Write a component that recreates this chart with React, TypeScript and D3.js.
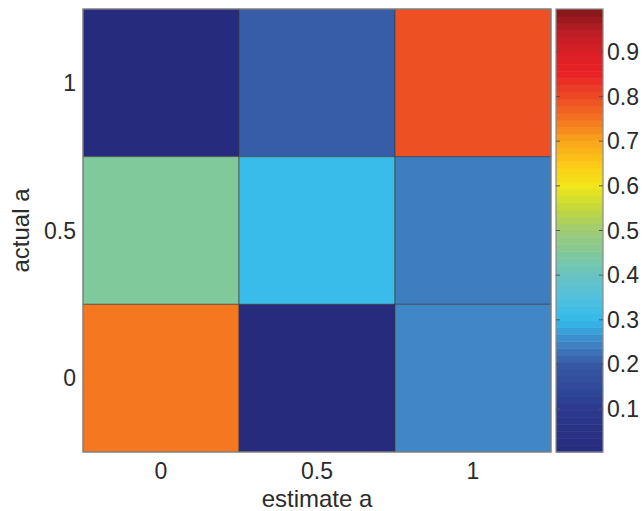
import * as d3 from 'd3'
import * as React from 'react'

//------------------------------data------------------------------
const estimateLabels = ['0', '0.5', '1']
const actualLabels = ['1', '0.5', '0']
// rows = actual a (top to bottom), columns = estimate a
const rowActual1 = [0.004, 0.205, 0.791]
const rowActual05 = [0.45, 0.31, 0.24]
const rowActual0 = [0.745, 0.004, 0.251]
const colorTicks = [0.1, 0.2, 0.3, 0.4, 0.5, 0.6, 0.7, 0.8, 0.9]
const colorStops = [0, 0.1, 0.2, 0.25, 0.3, 0.35, 0.4, 0.45, 0.5, 0.55, 0.6, 0.65, 0.7, 0.75, 0.8, 0.85, 0.9, 0.95, 1]
const colorValues = [
  '#272a7c', '#2b3a8e', '#3658a5', '#4086c6', '#33bbec', '#52c0dd', '#68c3c2',
  '#80c99a', '#9ecb74', '#c2d83c', '#f0e61a', '#fdc814', '#f9a51b', '#f47321',
  '#ec4a24', '#ea2226', '#db1f26', '#b81e25', '#7a1518'
]

const WIDTH = 644
const HEIGHT = 511
const plot = { left: 83, top: 9, right: 551, bottom: 452 }
const bar = { left: 556, right: 603 }
const FONT = 'Liberation Sans, Arial, sans-serif'
const FS = 23
const LABEL_FS = 24
const TEXT = '#2b2b2b'

export default function App() {
  const rows = [rowActual1, rowActual05, rowActual0]
  const x = d3.scaleBand().domain(estimateLabels).range([plot.left, plot.right])
  const y = d3.scaleBand().domain(actualLabels).range([plot.top, plot.bottom])
  const color = d3.scaleLinear<string>().domain(colorStops).range(colorValues)
  const cy = d3.scaleLinear().domain([0.004, 0.996]).range([plot.bottom, plot.top])
  const nBands = 64
  const bands = d3.range(nBands).map(i => 0.004 + (i * 0.992) / nBands)
  const bandH = (plot.bottom - plot.top) / nBands

  return (
    <svg width={WIDTH} height={HEIGHT} style={{ position: 'absolute', left: 0, top: 0 }}>
      <rect width={WIDTH} height={HEIGHT} fill="#fff" />
      {rows.map((row, ri) =>
        row.map((v, ci) => (
          <rect
            key={`${ri}-${ci}`}
            x={x(estimateLabels[ci])}
            y={y(actualLabels[ri])}
            width={x.bandwidth()}
            height={y.bandwidth()}
            fill={color(v)}
            stroke="#3a3a3a"
            strokeOpacity={0.6}
            strokeWidth={1}
          />
        ))
      )}
      <rect
        x={plot.left}
        y={plot.top}
        width={plot.right - plot.left}
        height={plot.bottom - plot.top}
        fill="none"
        stroke="#8a8a8a"
        strokeWidth={1.2}
      />
      {estimateLabels.map(l => (
        <text key={l} x={x(l)! + x.bandwidth() / 2} y={479} textAnchor="middle"
          fontFamily={FONT} fontSize={FS} fill={TEXT}>{l}</text>
      ))}
      {actualLabels.map(l => (
        <text key={l} x={76} y={y(l)! + y.bandwidth() / 2 + 8} textAnchor="end"
          fontFamily={FONT} fontSize={FS} fill={TEXT}>{l}</text>
      ))}
      <text x={(plot.left + plot.right) / 2} y={507} textAnchor="middle"
        fontFamily={FONT} fontSize={LABEL_FS} fill={TEXT}>estimate a</text>
      <text transform={`translate(29,${(plot.top + plot.bottom) / 2}) rotate(-90)`} textAnchor="middle"
        fontFamily={FONT} fontSize={LABEL_FS} fill={TEXT}>actual a</text>
      {/* colorbar */}
      {bands.map((v, i) => (
        <rect key={i} x={bar.left} y={plot.bottom - (i + 1) * bandH} width={bar.right - bar.left}
          height={bandH + 0.5} fill={color(v + 0.992 / nBands / 2)} />
      ))}
      <rect x={bar.left} y={plot.top} width={bar.right - bar.left} height={plot.bottom - plot.top}
        fill="none" stroke="#8a8a8a" strokeWidth={1.2} />
      {colorTicks.map(t => (
        <g key={t}>
          <line x1={bar.left} x2={bar.left + 4} y1={cy(t)} y2={cy(t)} stroke="#555" />
          <line x1={bar.right - 4} x2={bar.right} y1={cy(t)} y2={cy(t)} stroke="#555" />
          <text x={bar.right + 4} y={cy(t) + 8} fontFamily={FONT} fontSize={FS} fill={TEXT}>{t}</text>
        </g>
      ))}
    </svg>
  )
}
